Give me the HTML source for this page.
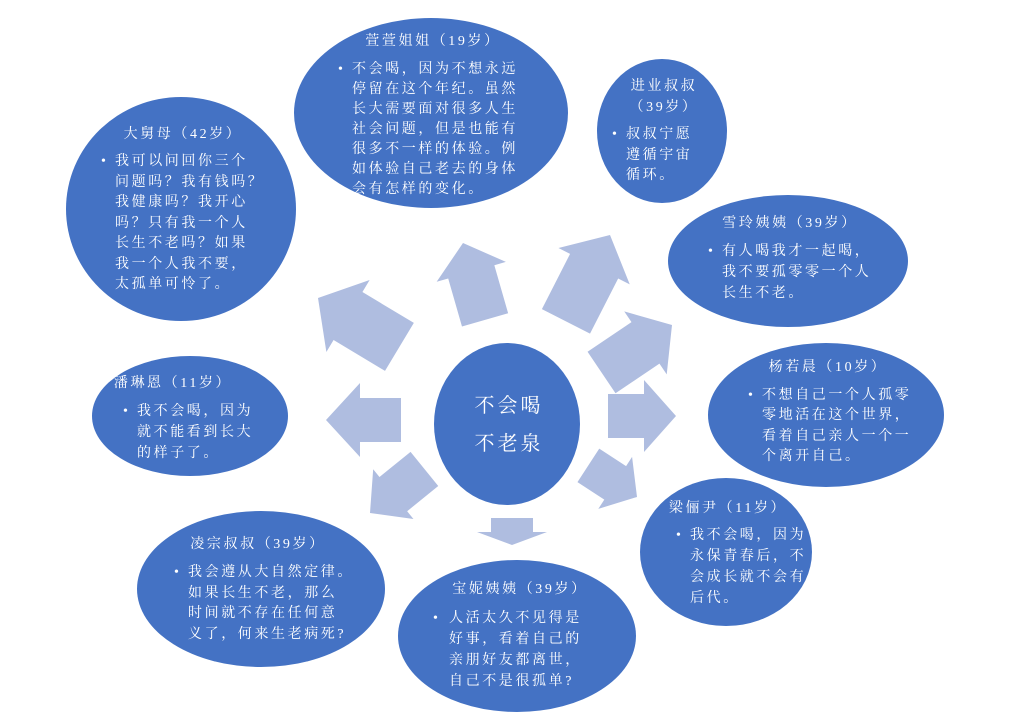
<!DOCTYPE html>
<html><head><meta charset="utf-8"><style>
html,body{margin:0;padding:0;background:#fff;}
svg{display:block}
text{font-family:"Liberation Serif","Noto Serif CJK SC",serif;font-size:14px;fill:#fff;letter-spacing:2.6px;}
</style></head><body>
<svg width="1010" height="726" viewBox="0 0 1010 726" xmlns="http://www.w3.org/2000/svg">
<g fill="#4472C4">
<ellipse cx="431" cy="113" rx="137" ry="95"/>
<ellipse cx="662" cy="131" rx="65" ry="72"/>
<ellipse cx="181" cy="209" rx="115" ry="112"/>
<ellipse cx="788" cy="261" rx="120" ry="66"/>
<ellipse cx="826" cy="415" rx="118" ry="72"/>
<ellipse cx="190" cy="416" rx="98" ry="60"/>
<ellipse cx="726" cy="552" rx="86" ry="74"/>
<ellipse cx="261" cy="589" rx="124" ry="78"/>
<ellipse cx="517" cy="636" rx="119" ry="76"/>
<ellipse cx="507" cy="424" rx="73" ry="81"/>
</g>
<g fill="#AFBDE0">
<g transform="translate(318,298) rotate(211)"><polygon points="0,0 -35,-42 -35,-28 -95,-28 -95,28 -35,28 -35,42"/></g>
<g transform="translate(463,243) rotate(254)"><polygon points="0,0 -30,-36 -30,-24 -80,-24 -80,24 -30,24 -30,36"/></g>
<g transform="translate(610,235) rotate(297)"><polygon points="0,0 -35,-40 -35,-27 -97,-27 -97,27 -35,27 -35,40"/></g>
<g transform="translate(672,325) rotate(326)"><polygon points="0,0 -32,-38 -32,-25 -85,-25 -85,25 -32,25 -32,38"/></g>
<g transform="translate(676,416) rotate(0)"><polygon points="0,0 -32,-36 -32,-22 -68,-22 -68,22 -32,22 -32,36"/></g>
<g transform="translate(637,497) rotate(33)"><polygon points="0,0 -26,-31 -26,-20 -58,-20 -58,20 -26,20 -26,31"/></g>
<g transform="translate(512,545) rotate(90)"><polygon points="0,0 -13,-35 -13,-21 -27,-21 -27,21 -13,21 -13,35"/></g>
<g transform="translate(370,513) rotate(141)"><polygon points="0,0 -30,-32 -30,-22 -70,-22 -70,22 -30,22 -30,32"/></g>
<g transform="translate(326,420) rotate(180)"><polygon points="0,0 -34,-37 -34,-22 -75,-22 -75,22 -34,22 -34,37"/></g>
</g>
<g text-anchor="middle">
<text x="509" y="412" style="font-size:20px;letter-spacing:3px">不会喝</text>
<text x="509" y="450" style="font-size:20px;letter-spacing:3px">不老泉</text>
</g>
<g text-anchor="middle">
<text x="433" y="45">萱萱姐姐（19岁）</text>
<text x="664" y="90">进业叔叔</text>
<text x="664" y="111">（39岁）</text>
<text x="183" y="138">大舅母（42岁）</text>
<text x="790" y="227">雪玲姨姨（39岁）</text>
<text x="828" y="371">杨若晨（10岁）</text>
<text x="173" y="387">潘琳恩（11岁）</text>
<text x="728" y="512">梁俪尹（11岁）</text>
<text x="258" y="548">凌宗叔叔（39岁）</text>
<text x="520" y="593">宝妮姨姨（39岁）</text>
</g>
<g>
<text x="338" y="73">•</text>
<text x="352" y="73">不会喝，因为不想永远</text>
<text x="352" y="93">停留在这个年纪。虽然</text>
<text x="352" y="113">长大需要面对很多人生</text>
<text x="352" y="133">社会问题，但是也能有</text>
<text x="352" y="153">很多不一样的体验。例</text>
<text x="352" y="173">如体验自己老去的身体</text>
<text x="352" y="193">会有怎样的变化。</text>

<text x="612" y="138">•</text>
<text x="626" y="138">叔叔宁愿</text>
<text x="626" y="159">遵循宇宙</text>
<text x="626" y="179">循环。</text>

<text x="101" y="165">•</text>
<text x="115" y="165">我可以问回你三个</text>
<text x="115" y="186">问题吗？我有钱吗？</text>
<text x="115" y="206">我健康吗？我开心</text>
<text x="115" y="227">吗？只有我一个人</text>
<text x="115" y="247">长生不老吗？如果</text>
<text x="115" y="268">我一个人我不要，</text>
<text x="115" y="288">太孤单可怜了。</text>

<text x="708" y="255">•</text>
<text x="722" y="255">有人喝我才一起喝，</text>
<text x="722" y="276">我不要孤零零一个人</text>
<text x="722" y="297">长生不老。</text>

<text x="748" y="399">•</text>
<text x="762" y="399">不想自己一个人孤零</text>
<text x="762" y="419">零地活在这个世界，</text>
<text x="762" y="440">看着自己亲人一个一</text>
<text x="762" y="460">个离开自己。</text>

<text x="123" y="415">•</text>
<text x="137" y="415">我不会喝，因为</text>
<text x="137" y="436">就不能看到长大</text>
<text x="137" y="457">的样子了。</text>

<text x="676" y="539">•</text>
<text x="690" y="539">我不会喝，因为</text>
<text x="690" y="560">永保青春后，不</text>
<text x="690" y="581">会成长就不会有</text>
<text x="690" y="602">后代。</text>

<text x="174" y="576">•</text>
<text x="188" y="576">我会遵从大自然定律。</text>
<text x="188" y="597">如果长生不老，那么</text>
<text x="188" y="617">时间就不存在任何意</text>
<text x="188" y="638">义了，何来生老病死?</text>

<text x="433" y="622">•</text>
<text x="449" y="622">人活太久不见得是</text>
<text x="449" y="643">好事，看着自己的</text>
<text x="449" y="664">亲朋好友都离世，</text>
<text x="449" y="685">自己不是很孤单?</text>
</g>
</svg>
</body></html>
